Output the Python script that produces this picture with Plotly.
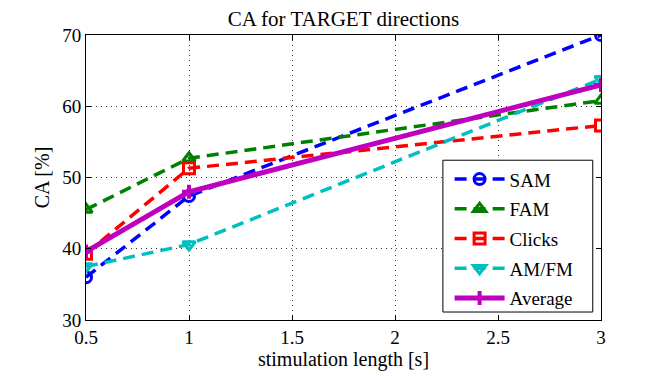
import plotly.graph_objects as go

# Stimulation lengths and CA values
stim_length = [0.5, 1, 3]
sam = [36.0, 47.4, 70.0]
fam = [45.5, 52.7, 60.8]
clicks = [39.3, 51.3, 57.3]
amfm = [37.5, 40.6, 63.8]
average = [39.6, 48.0, 63.0]

x_ticks = [0.5, 1, 1.5, 2, 2.5, 3]
y_ticks = [30, 40, 50, 60, 70]

font = "Liberation Serif"

fig = go.Figure()

series = [
    ("SAM", sam, "blue", "circle-open"),
    ("FAM", fam, "green", "triangle-up-open"),
    ("Clicks", clicks, "red", "square-open"),
    ("AM/FM", amfm, "#00bfbf", "triangle-down-open"),
]
for name, vals, col, sym in series:
    fig.add_trace(go.Scatter(
        x=stim_length, y=vals, name=name, legendgroup=name,
        mode="lines+markers",
        line=dict(color=col, width=3.5, dash="12px,7px"),
        marker=dict(symbol=sym, size=11, color=col, line=dict(color=col, width=3)),
    ))

fig.add_trace(go.Scatter(
    x=stim_length, y=average, name="Average", legendgroup="Average",
    mode="lines+markers",
    line=dict(color="#bf00bf", width=5),
    marker=dict(symbol="cross-thin-open", size=10, color="#bf00bf",
                line=dict(color="#bf00bf", width=4)),
))

axis_style = dict(
    showline=True, linecolor="black", linewidth=1, mirror="ticks",
    ticks="inside", ticklen=5, tickcolor="black",
    showgrid=True, gridcolor="#333", griddash="1px,4px", gridwidth=1,
    zeroline=False, tickfont=dict(size=19, color="black"),
)

fig.update_xaxes(range=[0.5, 3], tickvals=x_ticks, ticktext=[str(t) for t in x_ticks],
                 title=dict(text="stimulation length [s]", font=dict(size=20), standoff=2),
                 **axis_style)
fig.update_yaxes(range=[30, 70], tickvals=y_ticks,
                 title=dict(text="CA [%]", font=dict(size=20), standoff=7),
                 **axis_style)

# legend frame drawn as a shape so it can be wider than plotly's own box
fig.add_shape(type="rect", xref="paper", yref="paper",
              x0=0.693, x1=0.984, y0=0.028, y1=0.5606,
              fillcolor="white", line=dict(color="black", width=1), layer="above")

fig.update_layout(
    width=656, height=368,
    margin=dict(l=78, r=63, t=27, b=52),
    plot_bgcolor="white", paper_bgcolor="white",
    font=dict(family=font, color="black"),
    title=dict(text="CA for TARGET directions", xref="paper", x=0.5, xanchor="center",
               yref="container", y=0.99, yanchor="top", font=dict(size=21)),
    legend=dict(x=0.706, y=0.5606, xanchor="left", yanchor="top",
                bgcolor="rgba(0,0,0,0)", borderwidth=0,
                font=dict(size=19), tracegroupgap=2, itemwidth=50),
)

fig.write_html("out.html")
